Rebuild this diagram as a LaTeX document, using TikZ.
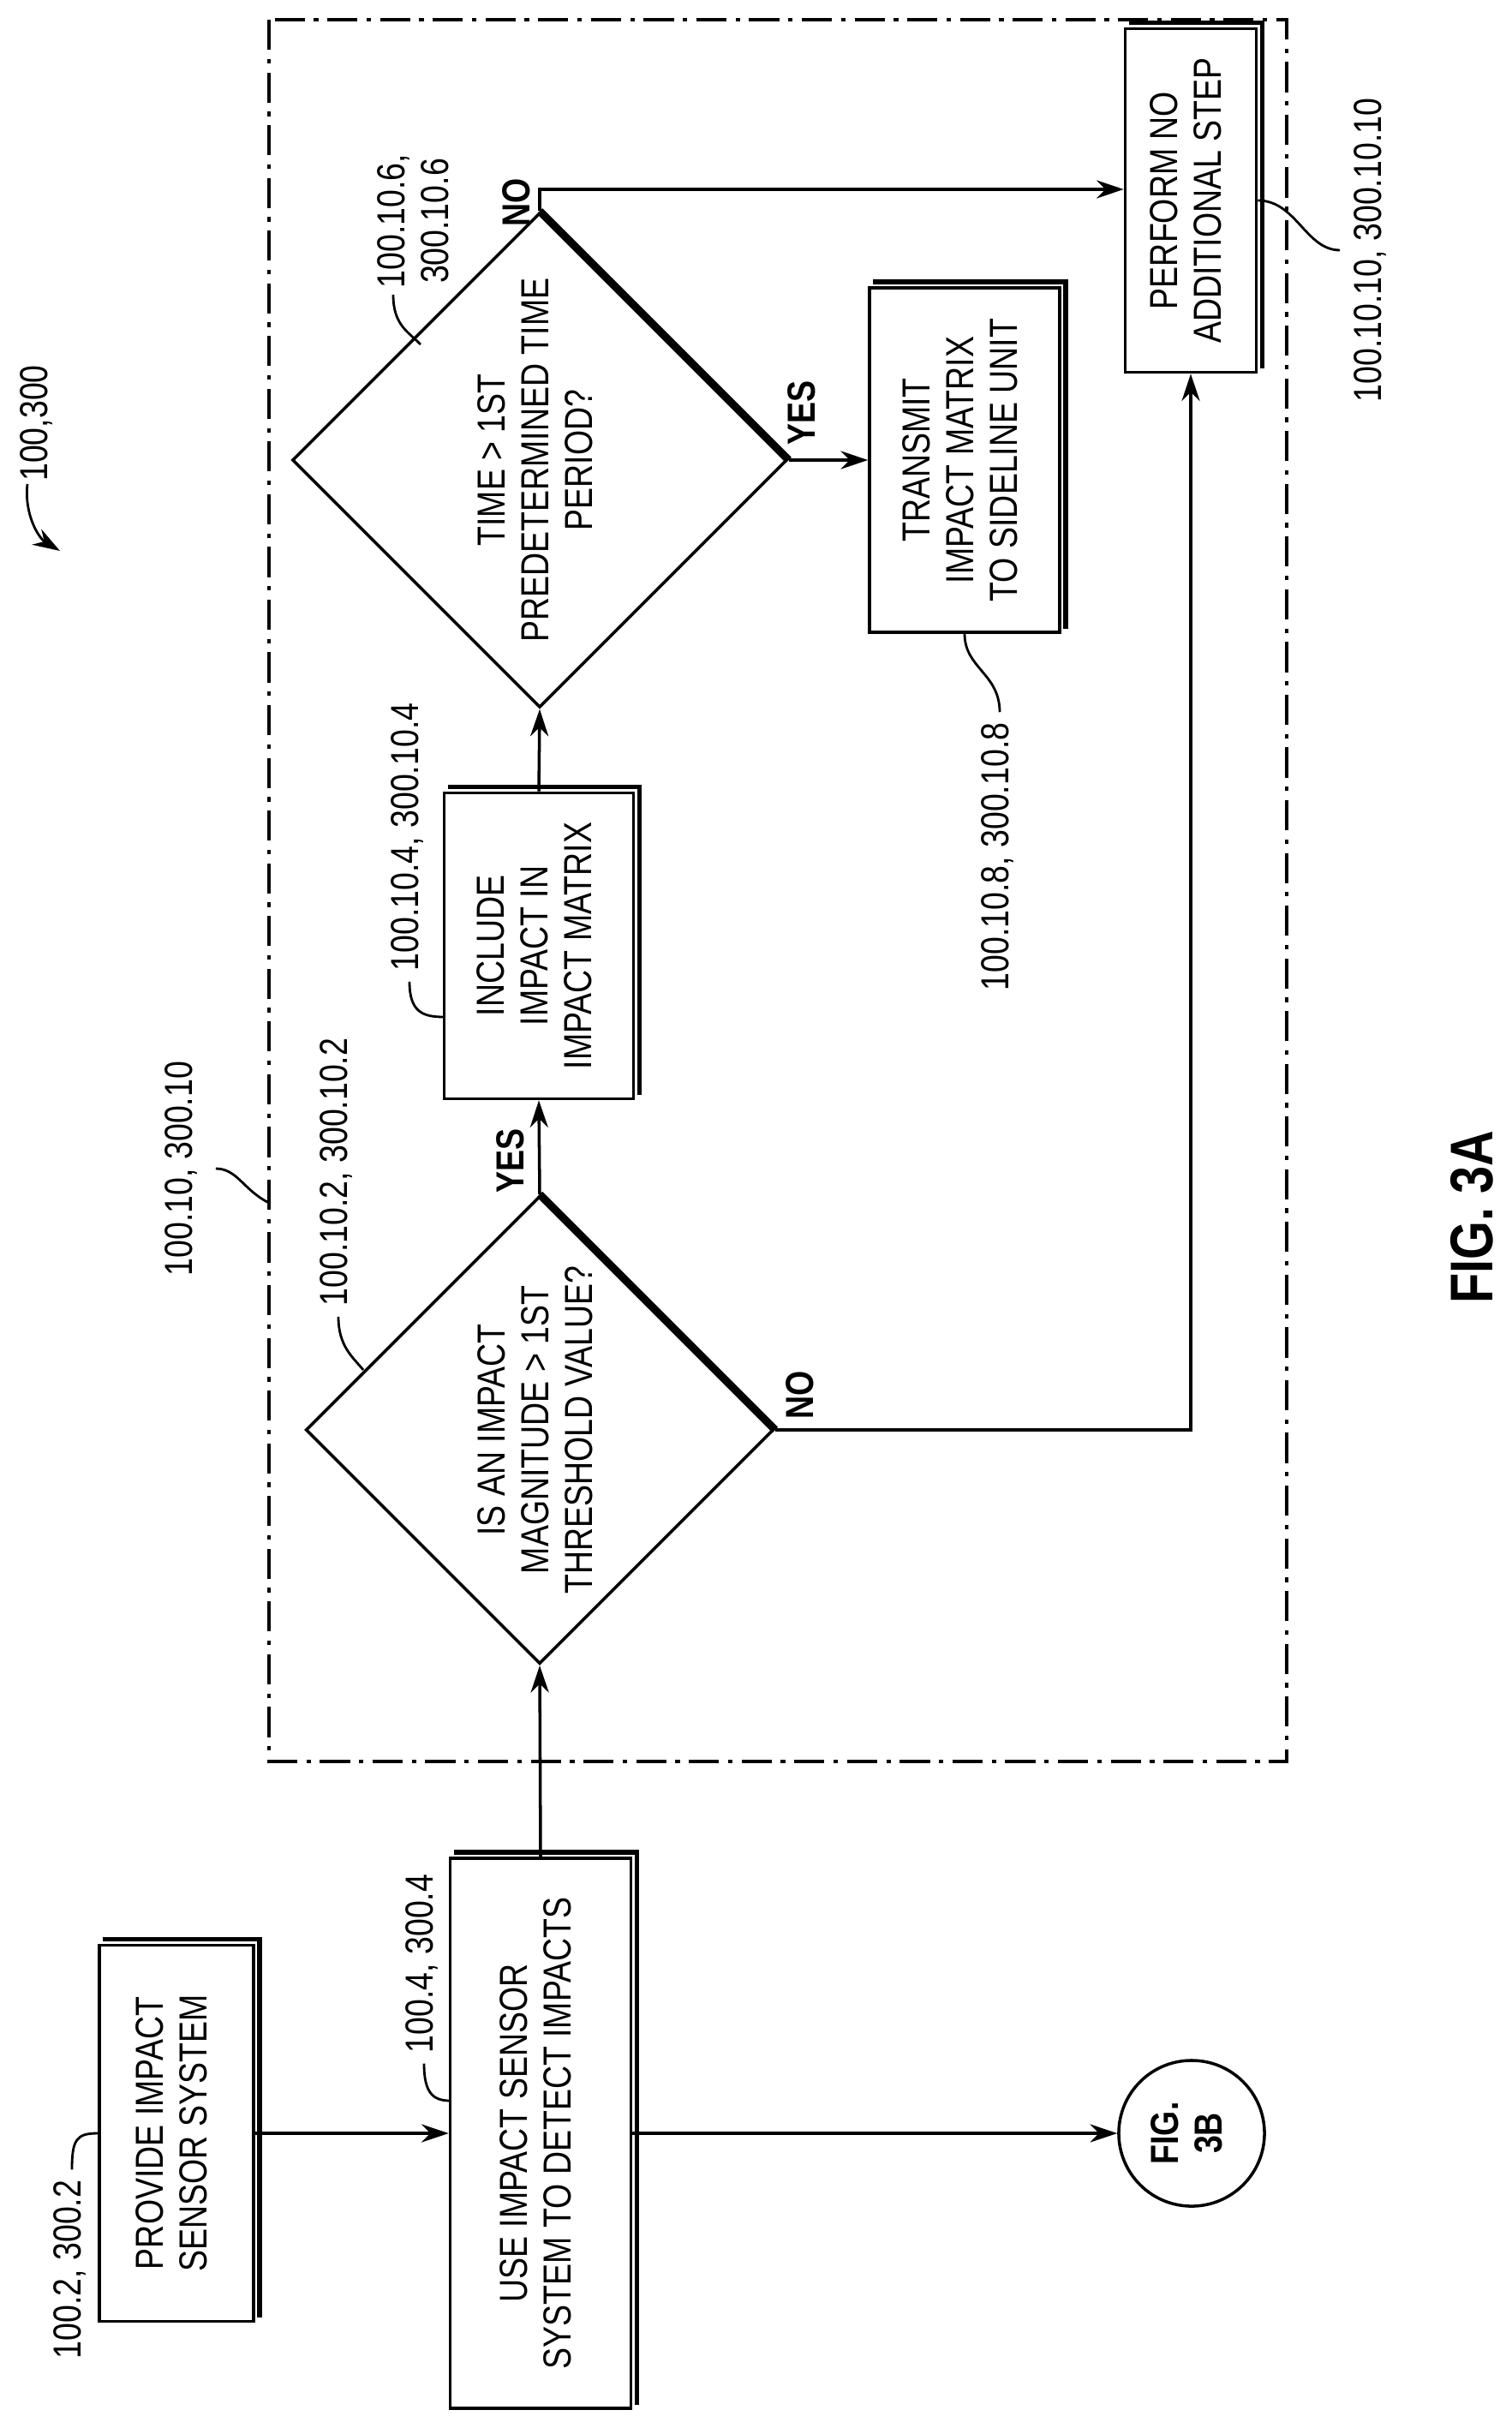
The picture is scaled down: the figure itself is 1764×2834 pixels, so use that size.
\documentclass[tikz,border=0pt]{standalone}
\usepackage{fontspec}
\setmainfont{Liberation Sans}[FakeStretch=0.82]
\usetikzlibrary{shapes.geometric,arrows.meta,calc}
\newcommand{\rt}[1]{\rotatebox{90}{\begin{tabular}{@{}c@{}}#1\end{tabular}}}
\newcommand{\boxshadow}[1]{%
    \draw[line width=1.6pt] ($(#1.north west)+(6,5)$) -- ($(#1.north east)+(5,5)$) -- ($(#1.south east)+(5,6)$);
}
\newcommand{\diamondedge}[1]{%
    \draw[line width=2.6pt] (#1.north) -- (#1.east);
}

\begin{document}
\begin{tikzpicture}[x=0.01cm,y=0.01cm,>={Stealth[length=9pt,width=6pt]},
    every node/.style={font=\fontsize{13}{14.5}\selectfont},
    stepbox/.style={draw,line width=1pt,rectangle,inner sep=0pt},
    test/.style={draw,line width=1pt,diamond,aspect=1,minimum size=5.46cm,inner sep=0pt},
    answer/.style={font=\fontsize{13}{14.5}\selectfont\bfseries},
    flow/.style={line width=1pt,->},
    leader/.style={line width=0.8pt}]

\useasboundingbox (0,0) rectangle (1764,-2834);

% group boundary
\draw [line width=1pt,dash pattern=on 10pt off 3pt on 1.5pt off 3pt] (314,-23) rectangle (1502,-2056);

% steps and tests
\node [stepbox,minimum width=1.80cm,minimum height=4.39cm] (P) at (206,-2490) {\rt{PROVIDE IMPACT\\SENSOR SYSTEM}};
\node [stepbox,minimum width=2.11cm,minimum height=6.42cm] (U) at (631,-2490) {\rt{USE IMPACT SENSOR\\SYSTEM TO DETECT IMPACTS}};
\node [draw,line width=1pt,circle,minimum size=1.70cm,inner sep=0pt] (F) at (1391,-2490) {\rt{\bfseries FIG.\\\bfseries 3B}};
\node [test] (D1) at (630,-1669) {\rt{IS AN IMPACT\\MAGNITUDE > 1ST\\THRESHOLD VALUE?}};
\node [stepbox,minimum width=2.21cm,minimum height=3.57cm] (I) at (629,-1104) {\rt{INCLUDE\\IMPACT IN\\IMPACT MATRIX}};
\node [test] (D2) at (630,-537) {\rt{TIME > 1ST\\PREDETERMINED TIME\\PERIOD?}};
\node [stepbox,minimum width=2.22cm,minimum height=4.02cm] (T) at (1126,-537) {\rt{TRANSMIT\\IMPACT MATRIX\\TO SIDELINE UNIT}};
\node [stepbox,minimum width=1.53cm,minimum height=4.01cm] (N) at (1390,-234) {\rt{PERFORM NO\\ADDITIONAL STEP}};

\foreach \b in {P,U,I,T,N}
    \boxshadow{\b};
\diamondedge{D1}
\diamondedge{D2}

% connectors
\coordinate (nobend) at (630,-221);
\draw [flow] (P) -- (U);
\draw [flow] (U) -- (F);
\draw [flow] (U.north) -- (D1.south);
\draw [flow] (D1.north) -- (I.south);
\draw [flow] (I.north) -- (D2.south);
\draw [flow] (D2.east) -- (T.west);
\draw [flow] (D2.north) -- (nobend) -- (nobend -| N.west);
\draw [flow] (D1.east) -| (N.south);

% answers
\node [answer] (y1) at (596,-1355) {\rotatebox{90}{YES}};
\node [answer] (n1) at (934,-1628) {\rotatebox{90}{NO}};
\node [answer] (y2) at (936,-482) {\rotatebox{90}{YES}};
\node [answer] (n2) at (603,-236) {\rotatebox{90}{NO}};

% reference labels
\node (Lall) at (45,-494) {\rt{100,300}};
\node (L2) at (84,-2649) {\rt{100.2, 300.2}};
\node (L4) at (495,-2292) {\rt{100.4, 300.4}};
\node (L10) at (214,-1364) {\rt{100.10, 300.10}};
\node (L102) at (395,-1368) {\rt{100.10.2, 300.10.2}};
\node (L104) at (478,-977) {\rt{100.10.4, 300.10.4}};
\node (L106) at (488,-258) {\rt{100.10.6,\\300.10.6}};
\node (L108) at (1167,-1000) {\rt{100.10.8, 300.10.8}};
\node (L1010) at (1602,-292) {\rt{100.10.10, 300.10.10}};
\node [font=\fontsize{20}{22}\selectfont\bfseries] (fig) at (1718,-1421) {\rotatebox{90}{FIG. 3A}};

% leader lines
\coordinate (allA) at (32,-565);
\coordinate (allB) at (70,-643);
\coordinate (e4) at (526,-2452);
\coordinate (e10) at (314,-1404);
\coordinate (e102) at (424,-1599);
\coordinate (e104) at (518,-1187);
\coordinate (s106) at (459,-344);
\coordinate (e106) at (491,-402);
\draw [leader,->] (allA) .. controls (28,-600) and (45,-628) .. (allB);
\draw [leader] (L2.north) .. controls +(0,35) and +(-25,0) .. (P.west);
\draw [leader] (L4.south) .. controls +(0,-35) and +(-20,0) .. (e4);
\draw [leader] (L10.east) .. controls +(25,0) and +(-30,15) .. (e10);
\draw [leader] (L102.south) .. controls +(0,-35) and +(-12,15) .. (e102);
\draw [leader] (L104.south) .. controls +(0,-35) and +(-25,0) .. (e104);
\draw [leader] (s106) .. controls +(0,-35) and +(-15,15) .. (e106);
\draw [leader] (L108.north) .. controls +(0,45) and +(0,-40) .. (T.south);
\draw [leader] (L1010.west) .. controls +(-40,0) and +(45,0) .. (N.east);

\end{tikzpicture}
\end{document}
